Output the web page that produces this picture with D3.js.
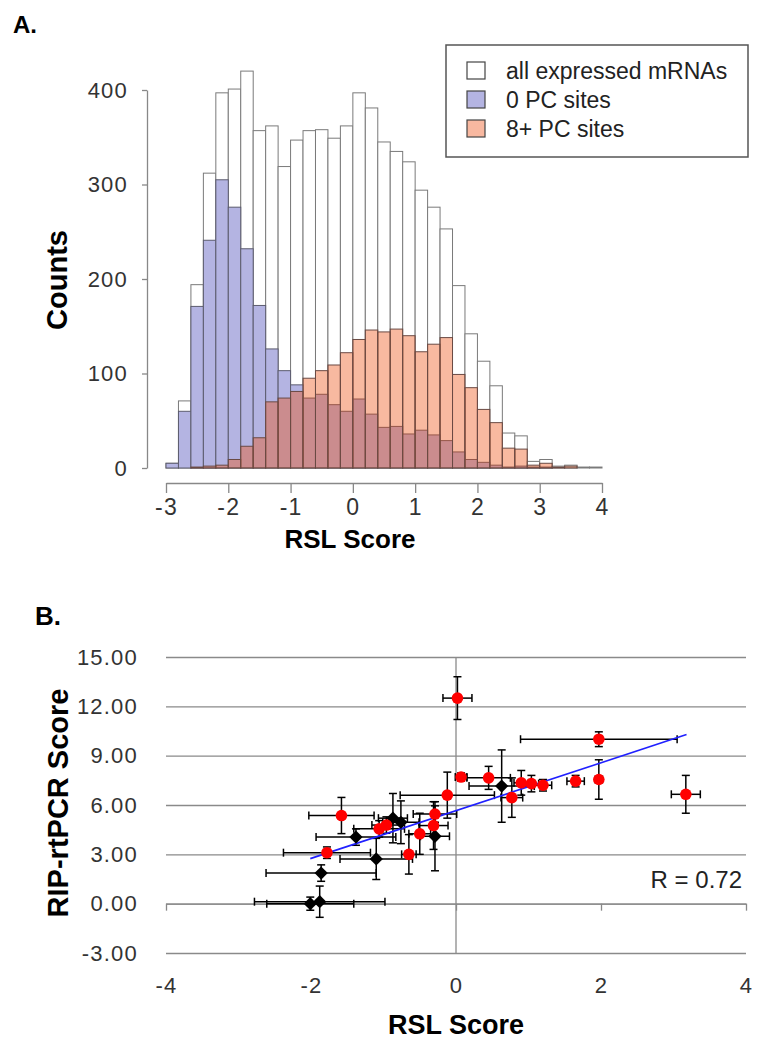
<!DOCTYPE html>
<html>
<head>
<meta charset="utf-8">
<script src="https://cdn.jsdelivr.net/npm/d3@7"></script>
<style>
  body { margin: 0; background: #fff; }
  svg text { font-family: "Liberation Sans", Arial, sans-serif; }
</style>
</head>
<body>
<svg id="chart" width="757" height="1040"></svg>
<script>
// ---- panel A : histogram of RSL scores, bins of 0.2 starting at -3
const binStart = -3, binWidth = 0.2;
const allCounts = [5,71,194,312,397,401,420,357,362,319,347,357,358,349,362,397,381,345,335,324,294,276,253,193,142,113,87,37,34,7,9,2,3,1,1];
const zeroPC    = [5,60,171,241,305,276,232,172,126,103,88,74,78,67,60,73,57,43,44,36,40,35,29,17,9,6,3,1,2,1,1,0,0,0,0];
const eightPC   = [0,0,1,2,3,9,23,32,70,74,81,95,103,109,122,136,146,144,147,140,123,131,138,99,85,62,48,21,20,3,5,1,2,0,0];
const histXTicks = [-3,-2,-1,0,1,2,3,4];
const histYTicks = [0,100,200,300,400];
const legendLabels = ["all expressed mRNAs", "0 PC sites", "8+ PC sites"];

// ---- panel B : RSL score vs RIP-rtPCR score, [x, y, xErr, yErr]
const redPoints = [
  [0.02,12.5,0.2,1.3], [1.97,10.0,1.08,0.45], [3.17,6.65,0.2,1.15], [1.97,7.55,0.05,1.2],
  [1.65,7.45,0.12,0.35], [1.2,7.2,0.12,0.35], [1.04,7.3,0.1,0.5], [0.9,7.35,0.1,0.75],
  [0.77,6.45,0.15,1.2], [0.45,7.65,0.3,0.7], [0.07,7.7,0.08,0.25], [-0.12,6.6,0.65,1.4],
  [-0.29,5.45,0.3,0.5], [-0.31,4.75,0.2,1.45], [-0.5,4.25,0.15,1.25], [-0.65,3.0,0.1,1.2],
  [-0.96,4.78,0.2,0.5], [-1.06,4.55,0.35,0.5], [-1.58,5.36,0.45,1.1], [-1.78,3.1,0.6,0.35]
];
const blackPoints = [
  [0.63,7.15,0.45,2.2], [-0.87,5.2,0.2,1.5], [-0.76,4.95,0.25,1.3], [-1.38,4.05,0.55,0.5],
  [-1.1,2.72,0.5,1.25], [-1.86,1.86,0.76,0.5], [-2.01,0.0,0.6,0.4], [-1.88,0.12,0.9,0.95],
  [-0.29,4.1,0.2,2.1]
];
const fitRange = [-2.01, 3.18];
const fitSlope = 1.453, fitIntercept = 5.66;
const scatterXTicks = [-4,-2,0,2,4];
const scatterYTicks = [-3,0,3,6,9,12,15];

const svg = d3.select("#chart");

// ======================================================================
// panel A
const hx = d3.scaleLinear().domain([-3, 4]).range([166, 602]);
const hy = d3.scaleLinear().domain([0, 400]).range([468, 90]);

const bins = allCounts.map((c, i) => ({
  x0: binStart + i * binWidth,
  x1: binStart + (i + 1) * binWidth,
  all: c, zero: zeroPC[i], eight: eightPC[i]
}));

const drawBars = function(key, fill, stroke) {
  svg.append("g").selectAll("rect")
    .data(bins.filter(d => d[key] > 0))
    .enter().append("rect")
    .attr("x", d => hx(d.x0))
    .attr("width", d => hx(d.x1) - hx(d.x0))
    .attr("y", d => hy(d[key]))
    .attr("height", d => hy(0) - hy(d[key]))
    .attr("fill", fill)
    .attr("stroke", stroke)
    .attr("stroke-width", 1);
};
drawBars("all", "#ffffff", "#7a7a7a");
drawBars("zero", "#b4b4e2", "#5c5c6e");
drawBars("eight", "rgba(237,80,17,0.4)", "#6a4a44");

const styleAxis = function(g, size) {
  g.select(".domain").attr("stroke", "#888").attr("stroke-width", 1.3);
  g.selectAll(".tick line").attr("stroke", "#888").attr("stroke-width", 1.3);
  g.selectAll(".tick text").attr("fill", "#333").style("font-size", size + "px")
    .attr("letter-spacing", "1.2");
};

svg.append("g")
  .attr("transform", "translate(147,0)")
  .call(d3.axisLeft(hy).tickValues(histYTicks).tickSize(5).tickSizeOuter(0).tickPadding(14))
  .call(g => styleAxis(g, 22));

svg.append("g")
  .attr("transform", "translate(0,483)")
  .call(d3.axisBottom(hx).tickValues(histXTicks).tickSize(10).tickSizeOuter(0).tickPadding(6)
    .tickFormat(d => String(d)))
  .call(g => styleAxis(g, 23));

// legend
svg.append("rect")
  .attr("x", 446).attr("y", 45).attr("width", 302).attr("height", 112)
  .attr("fill", "#fff").attr("stroke", "#555").attr("stroke-width", 1.5);
const legendFills = ["#ffffff", "#b4b4e2", "#f8b8a0"];
legendLabels.forEach((t, i) => {
  const yy = 62 + i * 29;
  svg.append("rect").attr("x", 467).attr("y", yy).attr("width", 18).attr("height", 17)
    .attr("fill", legendFills[i]).attr("stroke", "#444").attr("stroke-width", 1.2);
  svg.append("text").attr("x", 506).attr("y", yy + 16.5)
    .style("font-size", "23px").attr("fill", "#222").text(t);
});

svg.append("text").attr("x", 13).attr("y", 33)
  .style("font-size", "24px").style("font-weight", "bold").text("A.");
svg.append("text").attr("transform", "translate(67,280) rotate(-90)")
  .attr("text-anchor", "middle").style("font-size", "29px").style("font-weight", "bold").text("Counts");
svg.append("text").attr("x", 350).attr("y", 548).attr("text-anchor", "middle")
  .style("font-size", "26px").style("font-weight", "bold").text("RSL Score");

// ======================================================================
// panel B
const sx = d3.scaleLinear().domain([-4, 4]).range([166, 746]);
const sy = d3.scaleLinear().domain([-3, 15]).range([953, 657]);

// horizontal gridlines
svg.append("g")
  .attr("transform", "translate(166,0)")
  .call(d3.axisLeft(sy).tickValues(scatterYTicks).tickSize(-(746 - 166)).tickFormat(""))
  .call(g => g.select(".domain").remove())
  .call(g => g.selectAll(".tick line").attr("stroke", "#8a8a8a").attr("stroke-width", 1.3));

// y tick labels
svg.append("g")
  .attr("transform", "translate(166,0)")
  .call(d3.axisLeft(sy).tickValues(scatterYTicks).tickSize(0).tickPadding(28).tickFormat(d => d.toFixed(2)))
  .call(g => g.select(".domain").remove())
  .call(g => styleAxis(g, 22));

// x axis crossing at y = 0, ticks only
svg.append("g")
  .attr("transform", "translate(0," + sy(0) + ")")
  .call(d3.axisBottom(sx).tickValues(scatterXTicks).tickSize(7).tickSizeOuter(0).tickFormat(""))
  .call(g => styleAxis(g, 22));

// x tick labels at the bottom
svg.append("g")
  .attr("transform", "translate(0," + sy(-3) + ")")
  .call(d3.axisBottom(sx).tickValues(scatterXTicks).tickSize(0).tickPadding(24).tickFormat(d => String(d)))
  .call(g => g.select(".domain").remove())
  .call(g => styleAxis(g, 22));

// vertical axis at x = 0
svg.append("line")
  .attr("x1", sx(0)).attr("x2", sx(0)).attr("y1", sy(15)).attr("y2", sy(-3))
  .attr("stroke", "#8a8a8a").attr("stroke-width", 1.3);

// error bars
const cap = 4;
const drawErrors = function(points) {
  const g = svg.append("g").attr("stroke", "#000").attr("stroke-width", 1.5);
  points.forEach(([x, y, xe, ye]) => {
    const px = sx(x), py = sy(y);
    g.append("line").attr("x1", sx(x - xe)).attr("x2", sx(x + xe)).attr("y1", py).attr("y2", py);
    g.append("line").attr("x1", sx(x - xe)).attr("x2", sx(x - xe)).attr("y1", py - cap).attr("y2", py + cap);
    g.append("line").attr("x1", sx(x + xe)).attr("x2", sx(x + xe)).attr("y1", py - cap).attr("y2", py + cap);
    g.append("line").attr("x1", px).attr("x2", px).attr("y1", sy(y - ye)).attr("y2", sy(y + ye));
    g.append("line").attr("x1", px - cap).attr("x2", px + cap).attr("y1", sy(y - ye)).attr("y2", sy(y - ye));
    g.append("line").attr("x1", px - cap).attr("x2", px + cap).attr("y1", sy(y + ye)).attr("y2", sy(y + ye));
  });
};
drawErrors(blackPoints);
drawErrors(redPoints);

// regression line
svg.append("path")
  .datum(fitRange.map(x => [x, fitIntercept + fitSlope * x]))
  .attr("d", d3.line().x(d => sx(d[0])).y(d => sy(d[1])))
  .attr("stroke", "#2020ff").attr("stroke-width", 1.6).attr("fill", "none");

// markers
svg.append("g").selectAll("path")
  .data(blackPoints).enter().append("path")
  .attr("d", d3.symbol(d3.symbolSquare, 88))
  .attr("transform", d => "translate(" + sx(d[0]) + "," + sy(d[1]) + ") rotate(45)")
  .attr("fill", "#000");
svg.append("g").selectAll("circle")
  .data(redPoints).enter().append("circle")
  .attr("cx", d => sx(d[0])).attr("cy", d => sy(d[1])).attr("r", 5.8)
  .attr("fill", "#ff0000");

svg.append("text").attr("x", 742).attr("y", 888).attr("text-anchor", "end")
  .style("font-size", "24px").attr("fill", "#222").text("R = 0.72");

svg.append("text").attr("x", 35).attr("y", 625)
  .style("font-size", "26px").style("font-weight", "bold").text("B.");
svg.append("text").attr("transform", "translate(68,803) rotate(-90)")
  .attr("text-anchor", "middle").style("font-size", "29px").style("font-weight", "bold").text("RIP-rtPCR Score");
svg.append("text").attr("x", 456).attr("y", 1034).attr("text-anchor", "middle")
  .style("font-size", "27px").style("font-weight", "bold").text("RSL Score");
</script>
</body>
</html>
